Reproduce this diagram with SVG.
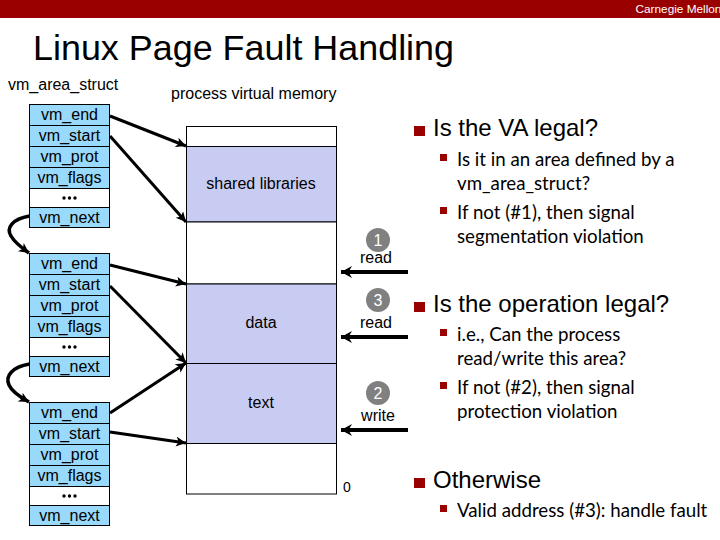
<svg xmlns="http://www.w3.org/2000/svg" width="720" height="540" viewBox="0 0 720 540">
<style>
.s{font-family:"Liberation Sans",Arial,sans-serif;fill:#000}
.f{font-size:16px;text-anchor:middle}
.cell{fill:#99d9fb;stroke:#000;stroke-width:1}
.blank{fill:#fff;stroke:#000;stroke-width:1}
.mem{fill:#c9ccf2;stroke:#000;stroke-width:1}
.mw{fill:#fff;stroke:#000;stroke-width:1}
.c{stroke:#000;stroke-width:3;fill:none;marker-end:url(#a)}
.big{stroke:#000;stroke-width:4;fill:none;marker-end:url(#b)}
.next{stroke:#000;stroke-width:3.5;fill:none;marker-end:url(#a)}
.h{font-size:24px}
.b{font-family:Lato,"Liberation Sans",sans-serif;font-size:18.7px;fill:#000}
.sq{fill:#990000}
.num{font-size:16px;fill:#fff;text-anchor:middle}
</style>
<defs>
<marker id="a" markerUnits="userSpaceOnUse" markerWidth="12" markerHeight="12" refX="10" refY="5" orient="auto"><path d="M0 0L10 5L0 10L2.5 5Z" fill="#000"/></marker>
<marker id="b" markerUnits="userSpaceOnUse" markerWidth="12" markerHeight="14" refX="11" refY="6" orient="auto"><path d="M0 6L11 0L7.5 6L11 12Z" transform="rotate(180 5.5 6)" fill="#000"/></marker>
<g id="dots"><circle cx="-5.5" cy="0" r="1.7"/><circle cx="0" cy="0" r="1.7"/><circle cx="5.5" cy="0" r="1.7"/></g>
</defs>
<rect width="720" height="540" fill="#fff"/>
<rect id="banner" width="720" height="18" fill="#990000"/>
<text x="635.5" y="13" class="s" font-size="11.8" style="fill:#fff">Carnegie Mellon</text>
<text x="33" y="60" class="s" font-size="35.9">Linux Page Fault Handling</text>
<text x="8" y="90" class="s" font-size="16">vm_area_struct</text>
<text x="171" y="99" class="s" font-size="16">process virtual memory</text>

<g id="vma1">
<rect class="cell" x="29.5" y="104.5" width="80" height="21"/><rect class="cell" x="29.5" y="125.5" width="80" height="21"/><rect class="cell" x="29.5" y="146.5" width="80" height="21"/><rect class="cell" x="29.5" y="167.5" width="80" height="21"/><rect class="blank" x="29.5" y="188.5" width="80" height="19"/><rect class="cell" x="29.5" y="207.5" width="80" height="20"/>
<text class="s f" x="69.5" y="120">vm_end</text><text class="s f" x="69.5" y="141">vm_start</text><text class="s f" x="69.5" y="162">vm_prot</text><text class="s f" x="69.5" y="183">vm_flags</text><use href="#dots" x="69.5" y="198"/><text class="s f" x="69.5" y="223">vm_next</text>
</g>
<g id="vma2">
<rect class="cell" x="29.5" y="253.5" width="80" height="21"/><rect class="cell" x="29.5" y="274.5" width="80" height="21"/><rect class="cell" x="29.5" y="295.5" width="80" height="21"/><rect class="cell" x="29.5" y="316.5" width="80" height="21"/><rect class="blank" x="29.5" y="337.5" width="80" height="19"/><rect class="cell" x="29.5" y="356.5" width="80" height="20"/>
<text class="s f" x="69.5" y="269">vm_end</text><text class="s f" x="69.5" y="290">vm_start</text><text class="s f" x="69.5" y="311">vm_prot</text><text class="s f" x="69.5" y="332">vm_flags</text><use href="#dots" x="69.5" y="347"/><text class="s f" x="69.5" y="372">vm_next</text>
</g>
<g id="vma3">
<rect class="cell" x="29.5" y="402.5" width="80" height="21"/><rect class="cell" x="29.5" y="423.5" width="80" height="21"/><rect class="cell" x="29.5" y="444.5" width="80" height="21"/><rect class="cell" x="29.5" y="465.5" width="80" height="21"/><rect class="blank" x="29.5" y="486.5" width="80" height="19"/><rect class="cell" x="29.5" y="505.5" width="80" height="20"/>
<text class="s f" x="69.5" y="418">vm_end</text><text class="s f" x="69.5" y="439">vm_start</text><text class="s f" x="69.5" y="460">vm_prot</text><text class="s f" x="69.5" y="481">vm_flags</text><use href="#dots" x="69.5" y="496"/><text class="s f" x="69.5" y="521">vm_next</text>
</g>

<g id="memory">
<rect class="mw" x="186.5" y="126.5" width="150" height="20"/>
<rect class="mem" x="186.5" y="146.5" width="150" height="75.5"/>
<rect class="mw" x="186.5" y="222" width="150" height="62"/>
<rect class="mem" x="186.5" y="284" width="150" height="79.5"/>
<rect class="mem" x="186.5" y="363.5" width="150" height="80"/>
<rect class="mw" x="186.5" y="443.5" width="150" height="50.5"/>
<text class="s f" x="261" y="189">shared libraries</text>
<text class="s f" x="261" y="328">data</text>
<text class="s f" x="261" y="408">text</text>
<text class="s" x="343" y="492" font-size="14">0</text>
</g>

<g id="connectors">
<path class="c" d="M110 116L186 146"/>
<path class="c" d="M110 136L186 222"/>
<path class="c" d="M110 265L186 284"/>
<path class="c" d="M110 286L186 363"/>
<path class="c" d="M110 413L186 363"/>
<path class="c" d="M110 432L186 443"/>
<path class="next" d="M29.5 216C12 219 6 228 11 236C15 243 22 248 29 253"/>
<path class="next" d="M29.5 364C12 367 5 376 9 385C12 392 20 397 29 402"/>
<path class="big" d="M408 272H341"/>
<path class="big" d="M408 337H341"/>
<path class="big" d="M408 430H341"/>
</g>

<g id="fault1"><circle cx="378" cy="240" r="12" fill="#808080"/><text class="s num" x="378" y="246">1</text><text class="s f" x="376" y="263">read</text></g>
<g id="fault3"><circle cx="378" cy="300" r="12" fill="#808080"/><text class="s num" x="378" y="306">3</text><text class="s f" x="376" y="328">read</text></g>
<g id="fault2"><circle cx="378" cy="393" r="12" fill="#808080"/><text class="s num" x="378" y="399">2</text><text class="s f" x="378" y="421">write</text></g>

<g id="bullets">
<rect class="sq" x="414" y="126" width="11" height="10"/>
<text class="s h" x="433" y="136">Is the VA legal?</text>
<rect class="sq" x="440" y="154" width="7" height="7"/>
<text class="b" x="457" y="166">Is it in an area defined by a</text>
<text class="b" x="457" y="190">vm_area_struct?</text>
<rect class="sq" x="440" y="207" width="7" height="7"/>
<text class="b" x="457" y="219">If not (#1), then signal</text>
<text class="b" x="457" y="243">segmentation violation</text>
<rect class="sq" x="414" y="302" width="11" height="10"/>
<text class="s h" x="433" y="312">Is the operation legal?</text>
<rect class="sq" x="440" y="329" width="7" height="7"/>
<text class="b" x="457" y="341">i.e., Can the process</text>
<text class="b" x="457" y="365">read/write this area?</text>
<rect class="sq" x="440" y="382" width="7" height="7"/>
<text class="b" x="457" y="394">If not (#2), then signal</text>
<text class="b" x="457" y="418">protection violation</text>
<rect class="sq" x="414" y="478" width="11" height="10"/>
<text class="s h" x="433" y="488">Otherwise</text>
<rect class="sq" x="440" y="505" width="7" height="7"/>
<text class="b" x="457" y="517">Valid address (#3): handle fault</text>
</g>
</svg>
